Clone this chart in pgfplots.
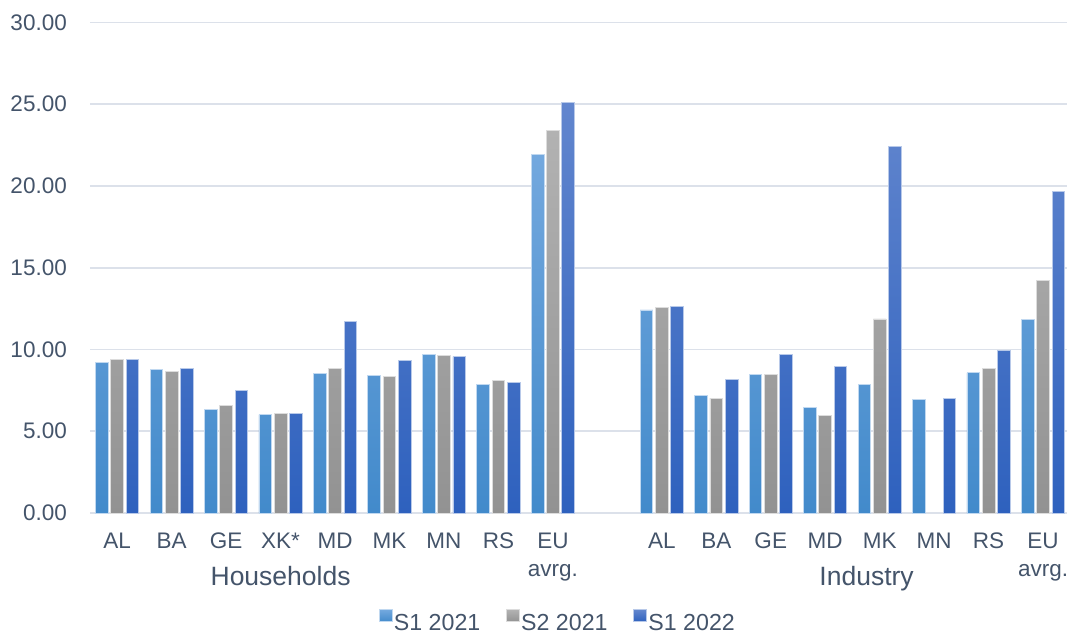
\documentclass[border=0pt]{standalone}
\usepackage{pgfplots}
\pgfplotsset{compat=1.18}
\usepackage{pgfplotstable}
\usepackage{fontspec}
\setmainfont{Liberation Sans}

\definecolor{labelcol}{RGB}{68,84,106}
\definecolor{gridcol}{RGB}{220,225,234}
\definecolor{aTop}{RGB}{115,168,222}
\definecolor{aBot}{RGB}{66,138,203}
\definecolor{bTop}{RGB}{178,178,178}
\definecolor{bBot}{RGB}{146,146,146}
\definecolor{cTop}{RGB}{98,134,206}
\definecolor{cBot}{RGB}{46,97,190}

% positions 0-8: Households, 10-17: Industry
\pgfplotstableread{
x   v
0   9.20
1   8.76
2   6.33
3   6.02
4   8.53
5   8.42
6   9.72
7   7.87
8   21.91
10  12.42
11  7.17
12  8.49
13  6.46
14  7.86
15  6.92
16  8.57
17  11.85
}\sOneTwentyOne

\pgfplotstableread{
x   v
0   9.39
1   8.67
2   6.57
3   6.08
4   8.84
5   8.34
6   9.66
7   8.09
8   23.41
10  12.57
11  7.03
12  8.49
13  5.99
14  11.87
16  8.82
17  14.22
}\sTwoTwentyOne

\pgfplotstableread{
x   v
0   9.39
1   8.84
2   7.49
3   6.08
4   11.73
5   9.35
6   9.57
7   8.01
8   25.12
10  12.65
11  8.19
12  9.67
13  8.96
14  22.44
15  7.01
16  9.92
17  19.69
}\sOneTwentyTwo

\begin{document}
\begin{tikzpicture}
\begin{axis}[
  name=ax,
  scale only axis,
  width=977pt, height=490.5pt,
  xmin=-0.5, xmax=17.44,
  ymin=0, ymax=30,
  clip=false,
  ybar=2.6pt, bar width=12.7pt,
  axis line style={draw=none},
  major tick length=0pt,
  ymajorgrids,
  grid style={gridcol, line width=1.8pt},
  ytick={0,5,10,15,20,25,30},
  /pgf/number format/assume math mode=true,
  yticklabel={\pgfmathprintnumber[fixed,fixed zerofill,precision=2]{\tick}},
  yticklabel style={font=\fontsize{22.5}{27}\selectfont, text=labelcol, inner sep=0pt, xshift=-23pt},
  xtick={0,1,2,3,4,5,6,7,8,10,11,12,13,14,15,16,17},
  xticklabels={AL,BA,GE,XK*,MD,MK,MN,RS,{EU\\avrg.},AL,BA,GE,MD,MK,MN,RS,{EU\\avrg.}},
  xticklabel style={font=\fontsize{22.5}{28}\selectfont, text=labelcol, align=center, inner sep=0pt, yshift=-20pt},
  legend columns=3,
  legend style={at={(0.4785,-0.2205)}, anchor=center, draw=none, fill=none,
    font=\fontsize{23.2}{26}\selectfont, text=labelcol,
    nodes={inner ysep=0.5pt, inner xsep=1.5pt},
    /tikz/every even column/.append style={column sep=24pt}},
  legend image code/.code={\path[#1] (0pt,1.7pt) rectangle (13pt,13.7pt);},
]
\addplot[top color=aTop, bottom color=aBot, draw=aTop!45!white, line width=0.8pt] table[x=x, y=v] {\sOneTwentyOne};
\addplot[top color=bTop, bottom color=bBot, draw=bTop!45!white, line width=0.8pt] table[x=x, y=v] {\sTwoTwentyOne};
\addplot[top color=cTop, bottom color=cBot, draw=cTop!45!white, line width=0.8pt] table[x=x, y=v] {\sOneTwentyTwo};
\legend{S1 2021, S2 2021, S1 2022}

\node[font=\fontsize{26.5}{30}\selectfont, text=labelcol, anchor=base, yshift=-72pt] at (axis cs:3,0) {Households};
\node[font=\fontsize{26.5}{30}\selectfont, text=labelcol, anchor=base, yshift=-72pt] at (axis cs:13.76,0) {Industry};
\end{axis}
\pgfresetboundingbox
\path[use as bounding box] ([shift={(-90pt,-122pt)}]ax.south west) rectangle ([shift={(0pt,22.5pt)}]ax.north east);
\end{tikzpicture}
\end{document}
